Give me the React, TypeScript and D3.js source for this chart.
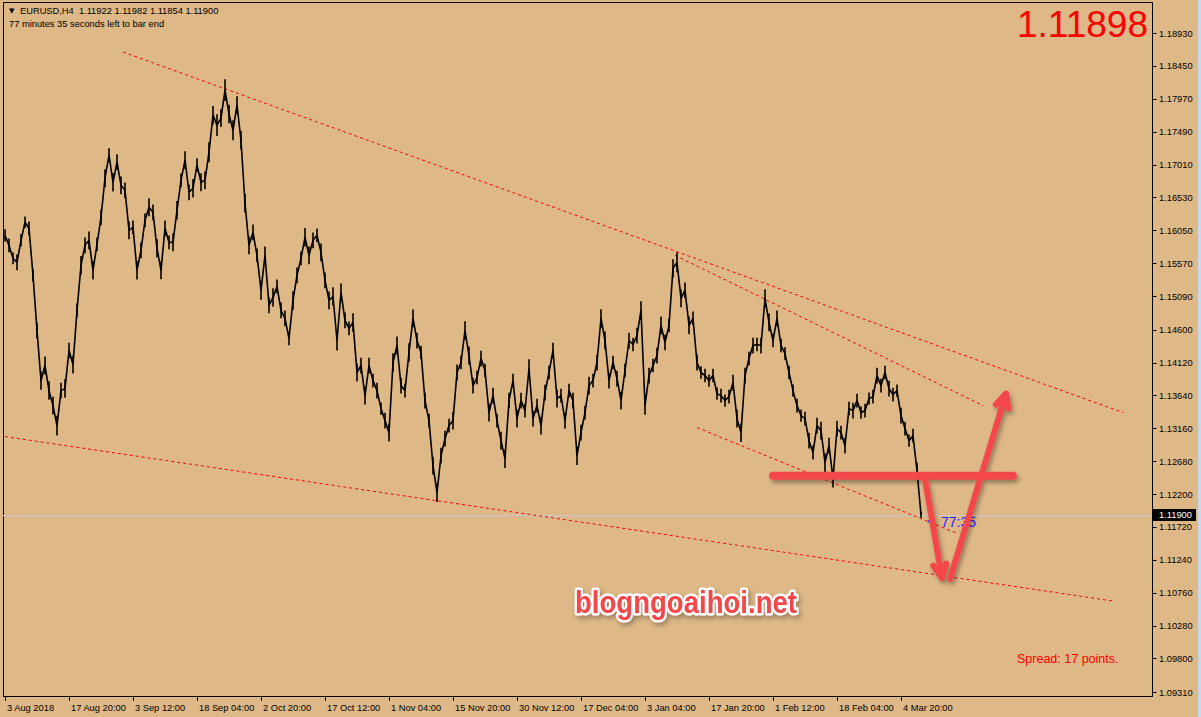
import React from "react";
import * as d3 from "d3";

const W = 1201;
const H = 717;

// Close prices, one value every 4 H4 bars
const closes: number[] = [
  1.15976, 1.1583, 1.1564, 1.15582, 1.15903, 1.16167, 1.16079, 1.15392, 1.14587, 1.13856,
  1.14076, 1.1371, 1.13491, 1.13199, 1.1371, 1.13739, 1.14295, 1.14091, 1.1488, 1.15538,
  1.1583, 1.15903, 1.15465, 1.15845, 1.1624, 1.1681, 1.17146, 1.16751, 1.17044, 1.16707,
  1.16634, 1.16049, 1.16094, 1.15465, 1.15757, 1.16196, 1.16386, 1.16313, 1.15786, 1.15465,
  1.16079, 1.15874, 1.15874, 1.16342, 1.1678, 1.17073, 1.16605, 1.16663, 1.17, 1.16751,
  1.1678, 1.1719, 1.17731, 1.17585, 1.17687, 1.18096, 1.17746, 1.17511, 1.17877, 1.17365,
  1.16444, 1.1583, 1.1602, 1.15684, 1.15172, 1.15684, 1.14953, 1.1507, 1.1523, 1.1488,
  1.14763, 1.1447, 1.15026, 1.15392, 1.1564, 1.15947, 1.15684, 1.15903, 1.15976, 1.15728,
  1.15318, 1.15026, 1.15084, 1.14441, 1.15143, 1.14734, 1.14617, 1.14705, 1.13974, 1.14076,
  1.13637, 1.14076, 1.13856, 1.1371, 1.13447, 1.13272, 1.13096, 1.1412, 1.14368, 1.13783,
  1.1371, 1.14266, 1.14763, 1.14441, 1.14266, 1.13564, 1.13272, 1.12614, 1.12219, 1.1276,
  1.13008, 1.13199, 1.13272, 1.13974, 1.1412, 1.14587, 1.14222, 1.13783, 1.13901, 1.14178,
  1.14003, 1.13389, 1.13637, 1.13272, 1.12979, 1.12716, 1.13564, 1.13856, 1.13301, 1.13564,
  1.13418, 1.14032, 1.13301, 1.13491, 1.13199, 1.13681, 1.13974, 1.14295, 1.13593, 1.13637,
  1.13272, 1.1371, 1.13564, 1.1276, 1.13096, 1.13389, 1.13783, 1.13856, 1.1412, 1.14763,
  1.14441, 1.13856, 1.1412, 1.13886, 1.13564, 1.14003, 1.14441, 1.14383, 1.14514, 1.1488,
  1.13491, 1.1393, 1.14076, 1.14222, 1.14661, 1.14412, 1.14661, 1.15494, 1.15582, 1.15055,
  1.15172, 1.14661, 1.14763, 1.1412, 1.13974, 1.1393, 1.13856, 1.1393, 1.13666, 1.13637,
  1.13564, 1.13622, 1.13827, 1.13301, 1.13096, 1.1393, 1.14178, 1.14368, 1.14383, 1.14368,
  1.15055, 1.14705, 1.14441, 1.14763, 1.14368, 1.14251, 1.13974, 1.1371, 1.13491, 1.13345,
  1.13301, 1.12979, 1.12804, 1.13199, 1.13125, 1.12658, 1.12906, 1.12424, 1.13155, 1.13096,
  1.12906, 1.13447, 1.13418, 1.13564, 1.13389, 1.13418, 1.13593, 1.13622, 1.1393, 1.13783,
  1.13974, 1.13739, 1.13652, 1.1371, 1.13345, 1.13155, 1.12979, 1.13052, 1.12541, 1.119,
];

// Swing (in pips) of the price line within each 4-bar group
const swings: number[] = [
  18, 20, 17, 23, 18, 17, 20, 18, 23, 27, 26,
  27, 26, 29, 23, 27, 23, 26, 20, 27,
  23, 26, 27, 20, 23, 26, 20, 27, 23, 26,
  23, 26, 20, 27, 23, 20, 26, 23, 27, 26,
  23, 20, 26, 27, 20, 26, 23, 27, 20, 26,
  26, 29, 27, 32, 26, 32, 27, 29, 26, 27,
  27, 26, 23, 20, 27, 26, 23, 27, 20, 23,
  23, 20, 27, 23, 20, 27, 26, 23, 20, 26,
  23, 26, 27, 29, 26, 23, 20, 27, 26, 23,
  26, 23, 20, 23, 18, 23, 26, 27, 26, 23,
  20, 27, 26, 23, 20, 23, 20, 26, 27, 23,
  23, 20, 26, 23, 20, 27, 26, 23, 20, 23,
  20, 26, 23, 20, 26, 27, 23, 20, 26, 23,
  20, 27, 23, 20, 26, 23, 20, 23, 26, 20,
  23, 20, 23, 27, 23, 20, 26, 20, 23, 27,
  26, 23, 20, 23, 26, 20, 23, 20, 23, 27,
  27, 23, 20, 23, 26, 23, 20, 27, 29, 26,
  23, 26, 20, 23, 18, 20, 18, 20, 18, 20,
  18, 20, 23, 26, 27, 23, 20, 23, 20, 23,
  27, 26, 20, 23, 20, 18, 20, 18, 20, 18,
  20, 23, 20, 23, 26, 27, 23, 26, 23, 20,
  23, 20, 23, 20, 18, 20, 18, 20, 23, 20,
  20, 23, 20, 18, 23, 20, 18, 20, 23, 9,
];
const pip = 0.0001;
const barsPerPoint = 4;

const dateLabels: string[] = [
  "3 Aug 2018", "17 Aug 20:00", "3 Sep 12:00", "18 Sep 04:00", "2 Oct 20:00",
  "17 Oct 12:00", "1 Nov 04:00", "15 Nov 20:00", "30 Nov 12:00", "17 Dec 04:00",
  "3 Jan 04:00", "17 Jan 20:00", "1 Feb 12:00", "18 Feb 04:00", "4 Mar 20:00",
];
const barsPerLabel = 64;

const priceTicks: number[] = [
  1.1893, 1.1845, 1.1797, 1.1749, 1.1701, 1.1653, 1.1605, 1.1557, 1.1509, 1.146,
  1.1412, 1.1364, 1.1316, 1.1268, 1.122, 1.1172, 1.1124, 1.1076, 1.1028, 1.098, 1.0931,
];

// Trend lines: [bar0, price0, bar1, price1]
const trendLines: number[][] = [
  [118, 1.18652, 1118, 1.13389],
  [670, 1.15684, 978, 1.13491],
  [0, 1.13038, 1107, 1.1064],
  [692, 1.13169, 953, 1.1162],
];

// Hand-drawn annotations: [bar0, price0, bar1, price1]
const levelLine: number[] = [768, 1.12467, 1008, 1.12467];
const arrowDown: number[] = [920, 1.12423, 937, 1.10976];
const arrowUp: number[] = [945, 1.10962, 1001, 1.13666];

const symbolHeader = "EURUSD,H4  1.11922 1.11982 1.11854 1.11900";
const timerText = "77 minutes 35 seconds left to bar end";
const bigPrice = "1.11898";
const bidPrice = 1.119;
const spreadText = "Spread: 17 points.";
const countdown = "77:35";
const watermark = "blogngoaihoi.net";

const FONT = "'Liberation Sans', Arial, sans-serif";
const BG = "#DEB887";
const ANN = "#F4464A";

const plot = { left: 3, right: 1152, top: 2, bottom: 696 };

export default function App() {
  const x = d3.scaleLinear().domain([0, 1147]).range([5, 1152]);
  const y = d3.scaleLinear().domain([1.0931, 1.1893]).range([692, 33]);

  const line = d3
    .line<number>()
    .x((_, i) => x(i * barsPerPoint))
    .y((d) => y(d));

  const seg = (s: number[]) => ({ x1: x(s[0]), y1: y(s[1]), x2: x(s[2]), y2: y(s[3]) });

  const arrowHead = (s: number[], len: number, ang: number) => {
    const x1 = x(s[0]), y1 = y(s[1]), x2 = x(s[2]), y2 = y(s[3]);
    const a = Math.atan2(y2 - y1, x2 - x1);
    const p1 = [x2 - len * Math.cos(a - ang), y2 - len * Math.sin(a - ang)];
    const p2 = [x2 - len * Math.cos(a + ang), y2 - len * Math.sin(a + ang)];
    return `M${p1[0]},${p1[1]}L${x2},${y2}L${p2[0]},${p2[1]}`;
  };

  const lv = seg(levelLine);
  const ad = seg(arrowDown);
  const au = seg(arrowUp);

  return (
    <svg
      width={W}
      height={H}
      style={{ position: "absolute", left: 0, top: 0, display: "block" }}
      fontFamily={FONT}
    >
      <defs>
        <clipPath id="plotClip">
          <rect x={plot.left} y={plot.top} width={plot.right - plot.left} height={plot.bottom - plot.top} />
        </clipPath>
        <filter id="shadow" x="-20%" y="-20%" width="140%" height="160%">
          <feDropShadow dx="2" dy="3" stdDeviation="2" floodColor="#000" floodOpacity="0.35" />
        </filter>
        <filter id="wmShadow" x="-10%" y="-30%" width="120%" height="170%">
          <feDropShadow dx="2" dy="3" stdDeviation="2.5" floodColor="#000" floodOpacity="0.3" />
        </filter>
      </defs>
      <rect x={0} y={0} width={W} height={H} fill={BG} />
      <rect x={1198} y={0} width={3} height={H} fill="#C9D9EA" />

      {/* frame */}
      <rect
        x={plot.left + 0.5}
        y={plot.top + 0.5}
        width={plot.right - plot.left}
        height={plot.bottom - plot.top}
        fill="none"
        stroke="#000"
        strokeWidth={1}
      />

      {/* price axis */}
      {priceTicks.map((p) => (
        <g key={p}>
          <line x1={plot.right + 0.5} x2={plot.right + 4.5} y1={Math.round(y(p)) + 0.5} y2={Math.round(y(p)) + 0.5} stroke="#000" />
          <text x={1159} y={y(p) + 3.5} fontSize={9.3} fill="#000">
            {p.toFixed(5)}
          </text>
        </g>
      ))}

      {/* time axis */}
      {dateLabels.map((lab, k) => (
        <g key={lab}>
          <line
            x1={Math.round(x(k * barsPerLabel)) + 0.5}
            x2={Math.round(x(k * barsPerLabel)) + 0.5}
            y1={plot.bottom}
            y2={plot.bottom + 5}
            stroke="#000"
          />
          <text x={x(k * barsPerLabel) + 2} y={711} fontSize={9.3} fill="#000">
            {lab}
          </text>
        </g>
      ))}

      <g clipPath="url(#plotClip)">
        {/* bid line */}
        <line x1={plot.left} x2={plot.right} y1={Math.round(y(bidPrice)) + 0.5} y2={Math.round(y(bidPrice)) + 0.5} stroke="#C8C8C8" strokeWidth={1} />

        {/* trend lines */}
        {trendLines.map((t, i) => (
          <line key={i} {...seg(t)} stroke="#FF0000" strokeWidth={1} strokeDasharray="3,3" />
        ))}

        {/* price line with its intrabar swing */}
        <g stroke="#000">
          {closes.map((c, i) => (
            <line
              key={i}
              x1={x(i * barsPerPoint)}
              x2={x(i * barsPerPoint)}
              y1={y(c + (swings[i] * pip) / 2)}
              y2={y(c - (swings[i] * pip) / 2)}
              strokeWidth={1.6}
            />
          ))}
        </g>
        <path d={line(closes) || ""} fill="none" stroke="#000" strokeWidth={1.6} strokeLinejoin="miter" strokeMiterlimit={2} />

        {/* countdown */}
        <text x={927} y={525} fontSize={10} fill="#2222FF">&lt;</text>
        <text x={941} y={527} fontSize={14} fill="#2222FF">{countdown}</text>

        {/* annotations */}
        <g filter="url(#shadow)" stroke={ANN} strokeLinecap="round" strokeLinejoin="round" fill="none">
          <line {...lv} strokeWidth={8} />
          <line {...ad} strokeWidth={6} />
          <path d={arrowHead(arrowDown, 15, 0.45)} strokeWidth={6} />
          <line {...au} strokeWidth={6} />
          <path d={arrowHead(arrowUp, 15, 0.45)} strokeWidth={6} />
        </g>

        {/* watermark */}
        <g filter="url(#wmShadow)">
          <text
            x={686}
            y={613}
            textAnchor="middle"
            fontSize={32}
            fontWeight="bold"
            fill={ANN}
            stroke="#FFFFFF"
            strokeWidth={5}
            strokeLinejoin="round"
            paintOrder="stroke"
            textLength={222}
            lengthAdjust="spacingAndGlyphs"
          >
            {watermark}
          </text>
        </g>

        <text x={1017} y={663} fontSize={12.5} fill="#FF0000">{spreadText}</text>
        <text x={1148} y={37} fontSize={37} fill="#FF0000" textAnchor="end">{bigPrice}</text>
      </g>

      {/* current price label */}
      <rect x={plot.right + 1} y={Math.round(y(bidPrice)) - 6} width={43} height={12} fill="#000" />
      <text x={1159} y={y(bidPrice) + 3.5} fontSize={9.3} fill="#FFF">
        {bidPrice.toFixed(5)}
      </text>

      {/* header */}
      <text x={9} y={13} fontSize={7} fill="#000" fontFamily="'DejaVu Sans', sans-serif">▼</text>
      <text x={20} y={14} fontSize={9.3} fill="#000" style={{ whiteSpace: "pre" }}>
        {symbolHeader}
      </text>
      <text x={9} y={27} fontSize={9.3} fill="#000">
        {timerText}
      </text>
    </svg>
  );
}
